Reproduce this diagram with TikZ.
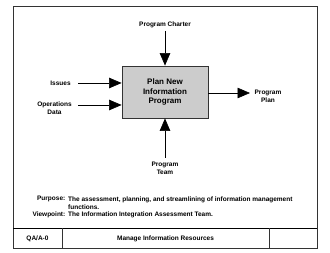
\documentclass[tikz,border=0pt]{standalone}
\usepackage{fontspec}
\setmainfont{Liberation Sans}
\usetikzlibrary{arrows.meta}
\begin{document}
\begin{tikzpicture}[x=1pt,y=-1pt,
  lbl/.style={font=\fontsize{6.5}{7.8}\selectfont\bfseries, inner sep=0pt, align=center},
  arr/.style={line width=0.6pt, -{Triangle[length=12.5pt,width=10.5pt]}},
  frm/.style={line width=0.8pt, draw=black!80}]
\useasboundingbox[fill=white] (0,0) rectangle (330,253);
% frame
\draw[frm] (13,6) rectangle (317,248);
\draw[line width=1.3pt] (13,228.5) -- (317,228.5);
\draw[frm] (62,228.5) -- (62,248);
\draw[frm] (269,228.5) -- (269,248);
% box
\node[draw=black!80, line width=0.8pt, fill=black!20, minimum width=86pt, minimum height=52pt, inner sep=0pt,
  font=\fontsize{8}{9.6}\selectfont\bfseries, align=center] (box) at (165,92) {Plan New\\Information\\Program};
% labels
\node[lbl] (charter) at (165,25) {Program Charter};
\node[lbl] (issues) at (60.5,83) {Issues};
\node[lbl] (ops) at (54.5,108) {Operations\\Data};
\node[lbl] (plan) at (268,96.5) {Program\\Plan};
\node[lbl] (team) at (165,168) {Program\\Team};
\coordinate (ia) at (78,83);
\coordinate (oa) at (78,105);
\coordinate (pa) at (250,93);
\coordinate (ta) at (165,158);
\coordinate (ca) at (165,31);
\draw[arr] (ca) -- (box.north);
\draw[arr] (ia) -- (box.west |- ia);
\draw[arr] (oa) -- (box.west |- oa);
\draw[arr] (box.east |- pa) -- (pa);
\draw[arr] (ta) -- (box.south);
% purpose
\node[lbl, anchor=east] (pl) at (65.5,199) {Purpose:};
\node[lbl, anchor=west, align=left] (pt) at (68,203) {The assessment, planning, and streamlining of information management\\functions.};
\node[lbl, anchor=east] (vl) at (65.5,215) {Viewpoint:};
\node[lbl, anchor=west] (vt) at (68,215) {The Information Integration Assessment Team.};
% footer
\node[lbl] (qa) at (37.5,239) {QA/A-0};
\node[lbl] (mir) at (165.5,239) {Manage Information Resources};
\end{tikzpicture}
\end{document}
